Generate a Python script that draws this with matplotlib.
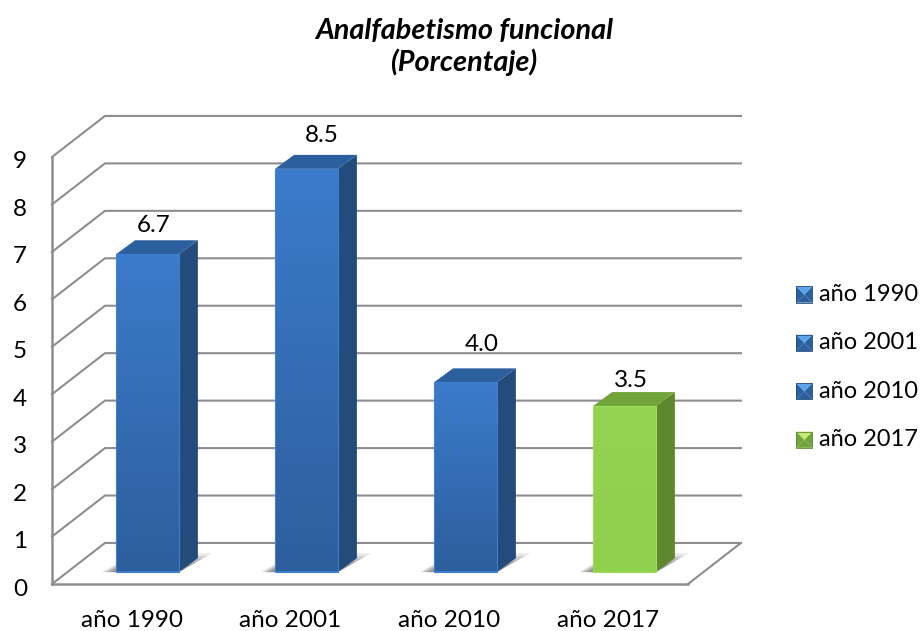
import numpy as np
import matplotlib
matplotlib.use("Agg")
import matplotlib.pyplot as plt
from matplotlib.legend_handler import HandlerBase
from matplotlib.patches import Patch, Polygon
from matplotlib.transforms import Affine2D

years = ["año 1990", "año 2001", "año 2010", "año 2017"]
values = [6.7, 8.5, 4.0, 3.5]
y_ticks = [0, 1, 2, 3, 4, 5, 6, 7, 8, 9]
value_labels = ["6.7", "8.5", "4.0", "3.5"]

# front, side, top, highlight, bottom of gradient, legend top
blue = ("#3b7bcb", "#234b7c", "#2c5f9e", "#3f80cf", "#2d5f9d", "#5ba3ea")
green = ("#94d351", "#5f8730", "#71a53a", "#a0dc5c", "#8fcf4c", "#c4ea7a")
bar_styles = [blue, blue, blue, green]
# data label shift in pixels from the top of the bar
label_nudge = [(6, 29), (15, 33), (16, 38), (7, 26)]

GRID = "#8e8e8e"
DEPTH_X = 0.333
DEPTH_Y = 0.865
BAR_W = 0.395
BAR_DX = 0.12
BAR_DY = 0.295
BASE_X = 0.1
BASE_Y = 0.25

plt.rcParams["font.family"] = ["Lato", "DejaVu Sans"]

fig = plt.figure(figsize=(9.21, 6.31), dpi=100)
ax = fig.add_axes([52 / 921, 47 / 631, 636 / 921, 427 / 631])
ax.set_xlim(-0.5, 3.5)
ax.set_ylim(0, 9)

# walls and floor
x0, x1 = ax.get_xlim()
for v in y_ticks:
    ax.plot([x0, x0 + DEPTH_X, x1 + DEPTH_X], [v, v + DEPTH_Y, v + DEPTH_Y],
            color=GRID, lw=1.5, clip_on=False, zorder=1)
ax.plot([x1, x1 + DEPTH_X], [0, DEPTH_Y], color=GRID, lw=1.5, clip_on=False, zorder=1)

for i, v in enumerate(values):
    front, side, top, light, low, _ = bar_styles[i]
    left = i - BAR_W / 2 + BASE_X
    right = left + BAR_W
    base = BASE_Y
    # shadow on the floor
    for grow, alpha in [(1.0, 0.15), (0.85, 0.2), (0.7, 0.22), (0.55, 0.25), (0.4, 0.3)]:
        ax.add_patch(Polygon([(left - 0.09 * grow, base), (right, base),
                              (right + 0.21 * grow, base + 0.4 * grow),
                              (left + 0.12 * grow, base + 0.4 * grow)],
                             closed=True, fc="#707070", ec="none", alpha=alpha,
                             clip_on=False, zorder=2))
    ax.fill([right, right + BAR_DX, right + BAR_DX, right],
            [base, base + BAR_DY, v + base + BAR_DY, v + base],
            color=side, lw=0, clip_on=False, zorder=3)
    ax.fill([left, left + BAR_DX, right + BAR_DX, right],
            [v + base, v + base + BAR_DY, v + base + BAR_DY, v + base],
            color=top, lw=0, clip_on=False, zorder=3)
    ax.bar(i + BASE_X, v, BAR_W, bottom=base, color=front, edgecolor=light,
           linewidth=0.8, zorder=4, clip_on=False)
    grad = np.linspace(0, 1, 64).reshape(-1, 1, 1)
    c0 = np.array(matplotlib.colors.to_rgb(front)).reshape(1, 1, 3)
    c1 = np.array(matplotlib.colors.to_rgb(low)).reshape(1, 1, 3)
    ax.imshow(c0 * (1 - grad) + c1 * grad, aspect="auto", zorder=5, clip_on=False,
              extent=(left + 0.005, right - 0.005, base + 0.03, v + base - 0.03))
    ax.annotate(value_labels[i], (i + BASE_X, v + base), xytext=label_nudge[i],
                textcoords="offset pixels", ha="center", va="center",
                fontsize=17.5, color="black", annotation_clip=False, zorder=6)

ax.set_xlim(x0, x1)
ax.set_ylim(0, 9)
ax.set_xticks(range(len(years)), years)
ax.set_yticks(y_ticks)
ax.tick_params(axis="both", length=0, labelsize=17.5, colors="black")
ax.tick_params(axis="x", pad=19)
ax.tick_params(axis="y", pad=18)
for lab in ax.get_yticklabels():
    lab.set_verticalalignment("center")
    lab.set_transform(lab.get_transform() + Affine2D().translate(0, -5))
for name in ["top", "right"]:
    ax.spines[name].set_visible(False)
for name in ["left", "bottom"]:
    ax.spines[name].set_color(GRID)
    ax.spines[name].set_linewidth(1.8)
    ax.spines[name].set_zorder(1.5)
ax.patch.set_alpha(0)


class PyramidHandler(HandlerBase):
    def create_artists(self, legend, orig, xd, yd, w, h, fontsize, trans):
        style = blue if orig.get_label() != years[-1] else green
        x = -xd + (w - h) / 2
        y = -yd - 1
        s = h * 0.95
        a, b, cc, d = (x, y), (x + s, y), (x + s, y + s), (x, y + s)
        mid = (x + s / 2, y + s / 2)
        art = []
        for pts, col in [((a, b, mid), style[2]), ((b, cc, mid), style[2]),
                         ((a, d, mid), style[2]), ((d, cc, mid), style[5])]:
            art.append(Polygon(pts, closed=True, fc=col, ec="none", transform=trans))
        art.append(Polygon((a, b, cc, d), closed=True, fc="none", ec=style[1], lw=0.6,
                           transform=trans))
        return art


handles = [Patch(label=y) for y in years]
ax.legend(handles=handles, handler_map={Patch: PyramidHandler()}, frameon=False,
          loc="center left", bbox_to_anchor=(796 / 921, 1 - 367 / 631),
          bbox_transform=fig.transFigure, fontsize=17, labelspacing=1.16,
          handlelength=0.74, handleheight=0.74, handletextpad=0.22, borderpad=0,
          borderaxespad=0)

fig.text(464 / 921, 1 - 47 / 631, "Analfabetismo funcional\n(Porcentaje)", ha="center",
         va="center", fontsize=20.8, fontweight="bold", fontstyle="italic",
         linespacing=1.2)

fig.savefig("out.png", dpi=100)
